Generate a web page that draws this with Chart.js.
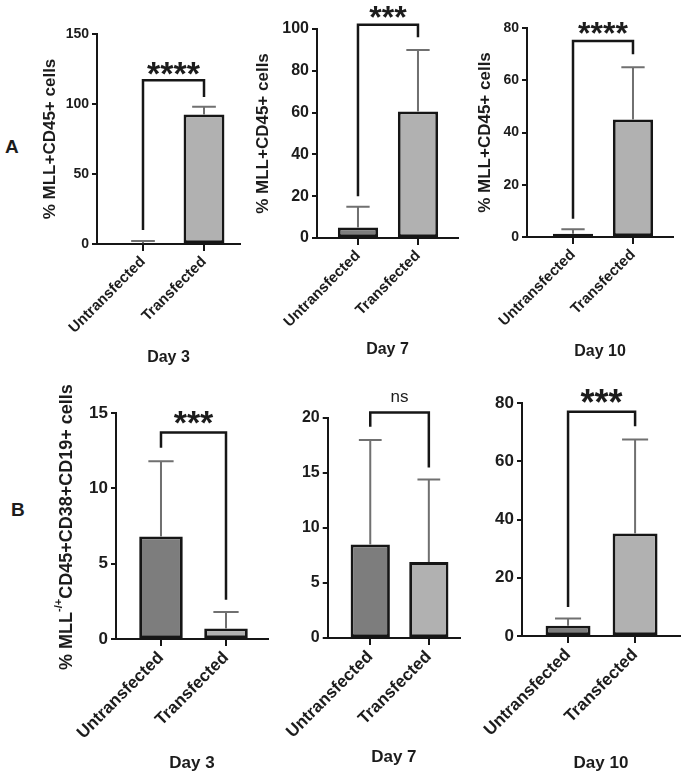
<!DOCTYPE html>
<html><head><meta charset="utf-8">
<script src="https://cdn.jsdelivr.net/npm/chart.js@4.4.1/dist/chart.umd.min.js"></script>
<style>
html,body{margin:0;padding:0;background:#fff;}
#wrap{position:relative;width:685px;height:779px;overflow:hidden;background:#fff;}
canvas{position:absolute;}
.lbl{position:absolute;font:bold 19px "Liberation Sans",Arial,sans-serif;color:#1c1c1c;line-height:22px;}
</style></head><body>
<div id="wrap">
<div class="lbl" style="left:5px;top:136px">A</div>
<div class="lbl" style="left:11px;top:499px">B</div>
<canvas id="a1"></canvas><canvas id="a2"></canvas><canvas id="a3"></canvas>
<canvas id="b1"></canvas><canvas id="b2"></canvas><canvas id="b3"></canvas>
</div>
<script>
// ---------- data ----------
const categories = ['Untransfected', 'Transfected'];
const days = ['Day 3', 'Day 7', 'Day 10'];
const barColors = ['#7d7d7d', '#b1b1b1'];

// Row A: % MLL+CD45+ cells (mean and upper SD)
const aDay3Mean = [0.6, 92.5];
const aDay3SD = [1.6, 5.5];
const aDay7Mean = [5.0, 60.5];
const aDay7SD = [10.0, 29.5];
const aDay10Mean = [1.2, 45.0];
const aDay10SD = [1.8, 20.0];

// Row B: % MLL-/+ CD45+CD38+CD19+ cells
const bDay3Mean = [6.8, 0.7];
const bDay3SD = [5.0, 1.1];
const bDay7Mean = [8.5, 6.9];
const bDay7SD = [9.5, 7.5];
const bDay10Mean = [3.5, 35.2];
const bDay10SD = [2.5, 32.3];

// significance labels and brackets [top, left leg end, right leg end] in axis units
const aSignif = ['****', '***', '****'];
const bSignif = ['***', 'ns', '***'];
const aBrackets = [[117, 10, 105], [102, 20, 96], [75, 7, 70]];
const bBrackets = [[13.7, 12.7, 2.6], [20.5, 19.2, 15.5], [77, 10, 72]];

// y axis [min, max, step]
const aYAxis = [[0, 150, 50], [0, 100, 20], [0, 80, 20]];
const bYAxis = [[0, 15, 5], [0, 20, 5], [0, 80, 20]];

const aYTitle = '% MLL+CD45+ cells';
const bYTitleParts = ['% MLL', '-/+', 'CD45+CD38+CD19+ cells'];

// ---------- drawing ----------
const FAM = '"Liberation Sans", Arial, Helvetica, sans-serif';
const TXT = '#1c1c1c';
const AX = '#161616';

const sigPlugin = {
  id: 'sig',
  afterDatasetsDraw(chart, args, o) {
    const ctx = chart.ctx;
    const ds = chart.data.datasets[0];
    const meta = chart.getDatasetMeta(0);
    const ys = chart.scales.y;
    ctx.save();
    // error bars (upper only)
    ctx.strokeStyle = '#707070';
    ctx.lineWidth = 2;
    meta.data.forEach((bar, i) => {
      const m = ds.data[i].y;
      const yt = ys.getPixelForValue(m + ds.errors[i]);
      const yb = ys.getPixelForValue(m);
      const half = bar.width * 0.29;
      ctx.beginPath();
      ctx.moveTo(bar.x, yb); ctx.lineTo(bar.x, yt);
      ctx.moveTo(bar.x - half, yt); ctx.lineTo(bar.x + half, yt);
      ctx.stroke();
    });
    // bracket
    const x1 = meta.data[0].x, x2 = meta.data[1].x;
    const b = o.bracket;
    const yTop = ys.getPixelForValue(b[0]);
    ctx.strokeStyle = AX;
    ctx.lineWidth = 2.5;
    ctx.lineJoin = 'miter';
    ctx.beginPath();
    ctx.moveTo(x1, ys.getPixelForValue(b[1]));
    ctx.lineTo(x1, yTop);
    ctx.lineTo(x2, yTop);
    ctx.lineTo(x2, ys.getPixelForValue(b[2]));
    ctx.stroke();
    // label
    ctx.fillStyle = TXT;
    ctx.font = o.sigFont;
    ctx.textAlign = 'center';
    ctx.textBaseline = 'alphabetic';
    const mt = ctx.measureText(o.text);
    const cy = yTop - o.sigGap;
    const base = cy + (mt.actualBoundingBoxAscent - mt.actualBoundingBoxDescent) / 2;
    ctx.fillText(o.text, (x1 + x2) / 2, base);
    // custom y title with superscript
    if (o.yParts) {
      const f1 = 'bold ' + o.yPartsSize + 'px ' + FAM;
      const f2 = 'bold ' + Math.round(o.yPartsSize * 0.62) + 'px ' + FAM;
      ctx.font = f1; const w1 = ctx.measureText(o.yParts[0]).width;
      const w3 = ctx.measureText(o.yParts[2]).width;
      ctx.font = f2; const w2 = ctx.measureText(o.yParts[1]).width;
      const tot = w1 + w2 + w3;
      ctx.translate(o.yPartsPos[0], o.yPartsPos[1]);
      ctx.rotate(-Math.PI / 2);
      ctx.textAlign = 'left';
      ctx.textBaseline = 'middle';
      let x = -tot / 2;
      ctx.font = f1; ctx.fillText(o.yParts[0], x, 0); x += w1;
      ctx.font = f2; ctx.fillText(o.yParts[1], x, -o.yPartsSize * 0.45); x += w2;
      ctx.font = f1; ctx.fillText(o.yParts[2], x, 0);
    }
    ctx.restore();
  }
};

function buildPanel(p) {
  const cv = document.getElementById(p.id);
  cv.width = p.cw; cv.height = p.ch;
  cv.style.left = p.cl + 'px'; cv.style.top = p.ct + 'px';
  const L = p.ca[0] - p.cl, T = p.ca[1] - p.ct, R = p.ca[2] - p.cl, B = p.ca[3] - p.ct;
  const dayLH = p.dayFont * 1.2;
  const dayPad = p.ch - (p.dayY - p.ct) - dayLH / 2;
  const yTitle = p.yTitle ? {
    display: true, text: p.yTitle, color: TXT,
    font: { family: FAM, size: p.yTitleFont, weight: 'bold' },
    padding: { top: p.yTitleX - p.cl - p.yTitleFont * 0.6, bottom: 0 }
  } : { display: false };
  new Chart(cv, {
    type: 'bar',
    data: {
      datasets: [{
        data: categories.map((c, i) => ({ x: i + 1, y: p.mean[i] })),
        errors: p.sd,
        backgroundColor: barColors,
        borderColor: AX,
        borderWidth: 2.8,
        borderSkipped: false,
        barPercentage: 0.67,
        categoryPercentage: 1
      }]
    },
    options: {
      responsive: false, animation: false, events: [],
      layout: { padding: { left: 0, top: T, right: p.cw - R, bottom: 0 } },
      plugins: {
        legend: { display: false }, tooltip: { enabled: false },
        sig: { bracket: p.bracket, text: p.sig, sigFont: p.sigFont, sigGap: p.sigGap,
               yParts: p.yParts, yPartsSize: p.yPartsSize, yPartsPos: p.yPartsPos }
      },
      scales: {
        x: {
          type: 'linear', min: p.xr[0], max: p.xr[1], offset: false,
          afterBuildTicks: s => { s.ticks = categories.map((c, i) => ({ value: i + 1 })); },
          afterFit: s => { s.height = p.ch - B; },
          grid: { offset: false, drawOnChartArea: false, drawTicks: true, tickLength: 7, color: AX, lineWidth: 2 },
          border: { display: true, color: AX, width: 2 },
          ticks: {
            autoSkip: false, maxRotation: 45, minRotation: 45, padding: 2, color: TXT,
            font: { family: FAM, size: p.catFont, weight: 'bold' },
            callback: v => categories[v - 1]
          },
          title: { display: true, text: p.day, color: TXT,
                   font: { family: FAM, size: p.dayFont, weight: 'bold' },
                   padding: { top: 0, bottom: dayPad } }
        },
        y: {
          min: p.yAxis[0], max: p.yAxis[1],
          afterFit: s => { s.width = L; },
          grid: { drawOnChartArea: false, drawTicks: true, tickLength: 5, color: AX, lineWidth: 2 },
          border: { display: true, color: AX, width: 2 },
          ticks: { stepSize: p.yAxis[2], padding: 3, color: TXT,
                   font: { family: FAM, size: p.tickFont, weight: 'bold' } },
          title: yTitle
        }
      }
    },
    plugins: [sigPlugin]
  });
}

const panels = [
  { id: 'a1', cl: 0, ct: 0, cw: 242, ch: 385, ca: [97, 34, 240, 244], xr: [0.246, 2.59],
    mean: aDay3Mean, sd: aDay3SD, yAxis: aYAxis[0], bracket: aBrackets[0], sig: aSignif[0],
    sigFont: 'bold 34px ' + FAM, sigGap: 12, day: days[0], dayY: 358, dayFont: 16,
    tickFont: 14, catFont: 15, yTitle: aYTitle, yTitleFont: 17, yTitleX: 50 },
  { id: 'a2', cl: 242, ct: 0, cw: 220, ch: 385, ca: [317, 29, 458, 238], xr: [0.317, 2.667],
    mean: aDay7Mean, sd: aDay7SD, yAxis: aYAxis[1], bracket: aBrackets[1], sig: aSignif[1],
    sigFont: 'bold 32px ' + FAM, sigGap: 13, day: days[1], dayY: 350, dayFont: 16,
    tickFont: 16, catFont: 15, yTitle: aYTitle, yTitleFont: 17, yTitleX: 263 },
  { id: 'a3', cl: 462, ct: 0, cw: 223, ch: 385, ca: [527, 28, 673, 237], xr: [0.233, 2.667],
    mean: aDay10Mean, sd: aDay10SD, yAxis: aYAxis[2], bracket: aBrackets[2], sig: aSignif[2],
    sigFont: 'bold 32px ' + FAM, sigGap: 13, day: days[2], dayY: 352, dayFont: 16,
    tickFont: 14, catFont: 15, yTitle: aYTitle, yTitleFont: 17, yTitleX: 485 },
  { id: 'b1', cl: 0, ct: 385, cw: 272, ch: 394, ca: [116, 413, 268, 639], xr: [0.308, 2.646],
    mean: bDay3Mean, sd: bDay3SD, yAxis: bYAxis[0], bracket: bBrackets[0], sig: bSignif[0],
    sigFont: 'bold 34px ' + FAM, sigGap: 15, day: days[0], dayY: 763, dayFont: 17,
    tickFont: 17, catFont: 17, yTitle: null,
    yParts: bYTitleParts, yPartsSize: 18, yPartsPos: [67, 527 - 385] },
  { id: 'b2', cl: 272, ct: 385, cw: 192, ch: 394, ca: [320, 418, 460, 638], xr: [0.274, 2.532],
    mean: bDay7Mean, sd: bDay7SD, yAxis: bYAxis[1], bracket: bBrackets[1], sig: bSignif[1],
    sigFont: '17px ' + FAM, sigGap: 15, day: days[1], dayY: 757, dayFont: 17,
    tickFont: 16, catFont: 17, yTitle: null },
  { id: 'b3', cl: 464, ct: 385, cw: 221, ch: 394, ca: [522, 403, 680, 636], xr: [0.313, 2.67],
    mean: bDay10Mean, sd: bDay10SD, yAxis: bYAxis[2], bracket: bBrackets[2], sig: bSignif[2],
    sigFont: 'bold 36px ' + FAM, sigGap: 16, day: days[2], dayY: 763, dayFont: 17,
    tickFont: 17, catFont: 17, yTitle: null }
];
panels.forEach(buildPanel);
</script>
</body></html>
